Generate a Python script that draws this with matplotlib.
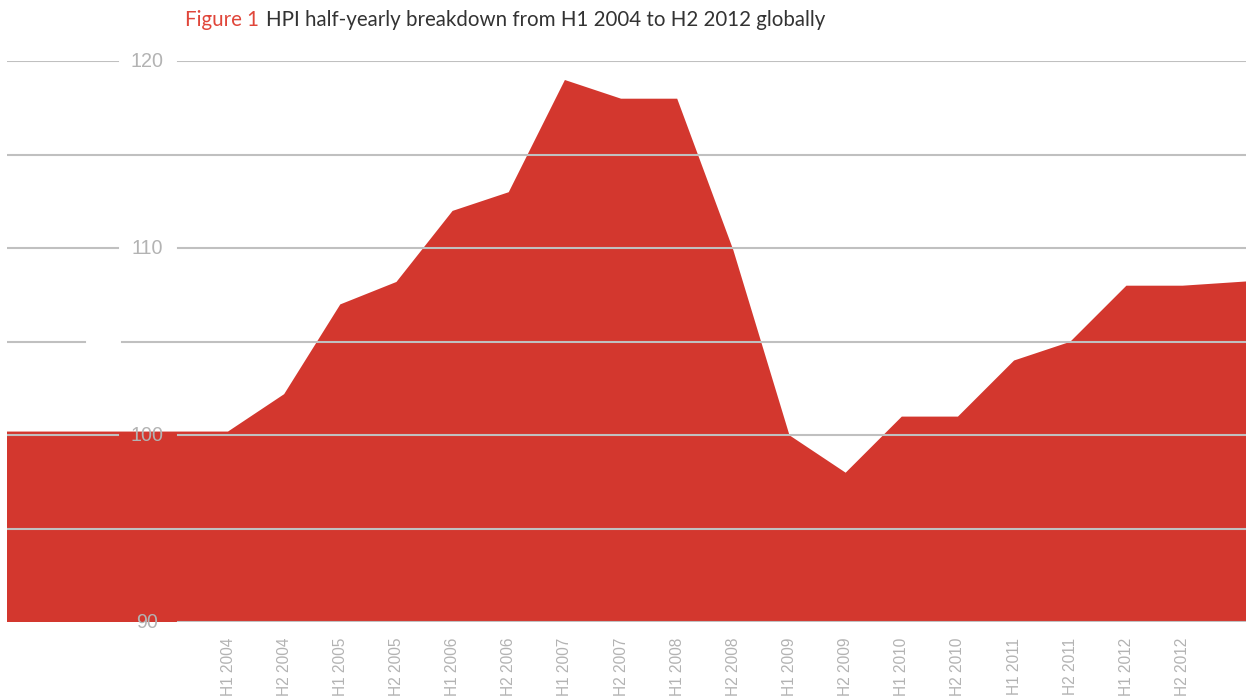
import matplotlib
matplotlib.use("Agg")
import matplotlib.pyplot as plt
import numpy as np

# ---- data ----
categories = ["H1 2004", "H2 2004", "H1 2005", "H2 2005", "H1 2006", "H2 2006",
              "H1 2007", "H2 2007", "H1 2008", "H2 2008", "H1 2009", "H2 2009",
              "H1 2010", "H2 2010", "H1 2011", "H2 2011", "H1 2012", "H2 2012"]
hpi = [100.2, 102.2, 107.0, 108.2, 112.0, 113.0,
       119.0, 118.0, 118.0, 109.9, 100.0, 98.0,
       101.0, 101.0, 104.0, 105.0, 108.0, 108.0]
lead_values = [100.2, 100.2, 100.2, 100.2]   # unlabeled points before H1 2004
tail_values = [108.2, 108.4]                   # unlabeled points after H2 2012 (clipped)
yticks = [90, 100, 110, 120]
gridlevels = [90, 95, 100, 105, 110, 115, 120]

# ---- style ----
RED = "#d3372e"
GRID = "#c0c0c0"
LABEL = "#b3b3b3"

W, H = 1246, 700
fig = plt.figure(figsize=(W / 100, H / 100), dpi=100)
ax = fig.add_axes([7 / W, (H - 622.3) / H, 1239 / W, (622.3 - 61.3) / H])

all_vals = lead_values + hpi + tail_values
xs = np.arange(len(all_vals)) - len(lead_values)
ax.fill_between(xs, 90, all_vals, color=RED, linewidth=0, zorder=1)

ax.set_xlim(-3.936, 18.13)
ax.set_ylim(90, 120)

# gridlines (drawn over the fill, with gaps around the value labels)
def seg(px0, px1):
    return (px0 - 7) / 1239, (px1 - 7) / 1239

segments = {
    120: [seg(7, 118), seg(178, 1246)],
    115: [seg(7, 1246)],
    110: [seg(7, 118), seg(178, 1246)],
    105: [seg(7, 85), seg(122, 1246)],
    100: [seg(7, 118), seg(178, 1246)],
    95: [seg(7, 1246)],
    90: [seg(178, 1246)],
}
for lvl in gridlevels:
    for a, b in segments[lvl]:
        ax.axhline(lvl, xmin=a, xmax=b, color=GRID, linewidth=1.5, zorder=2)

# y value labels
tr = ax.get_yaxis_transform()
for v in yticks:
    ax.text((147 - 7) / 1239, v, str(v), transform=tr, ha="center", va="center",
            color=LABEL, fontsize=14.2, family="Liberation Sans", zorder=3)

ax.set_yticks([])
ax.set_xticks(np.arange(len(categories)))
ax.set_xticklabels(categories, rotation=90, color=LABEL, fontsize=11.2,
                   family="Liberation Sans")
ax.tick_params(axis="x", length=0, pad=11)
for s in ax.spines.values():
    s.set_visible(False)

# title
t1 = fig.text(185 / W, (H - 26) / H, "Figure 1", color="#e0463a", fontsize=14.8,
              family="Lato", va="baseline", ha="left")
ax.annotate("HPI half-yearly breakdown from H1 2004 to H2 2012 globally",
            xy=(1, 0), xycoords=t1, xytext=(5, 0), textcoords="offset points",
            color="#333333", fontsize=14.8, family="Lato", va="bottom", ha="left",
            annotation_clip=False)

fig.savefig("out.png", dpi=100)
